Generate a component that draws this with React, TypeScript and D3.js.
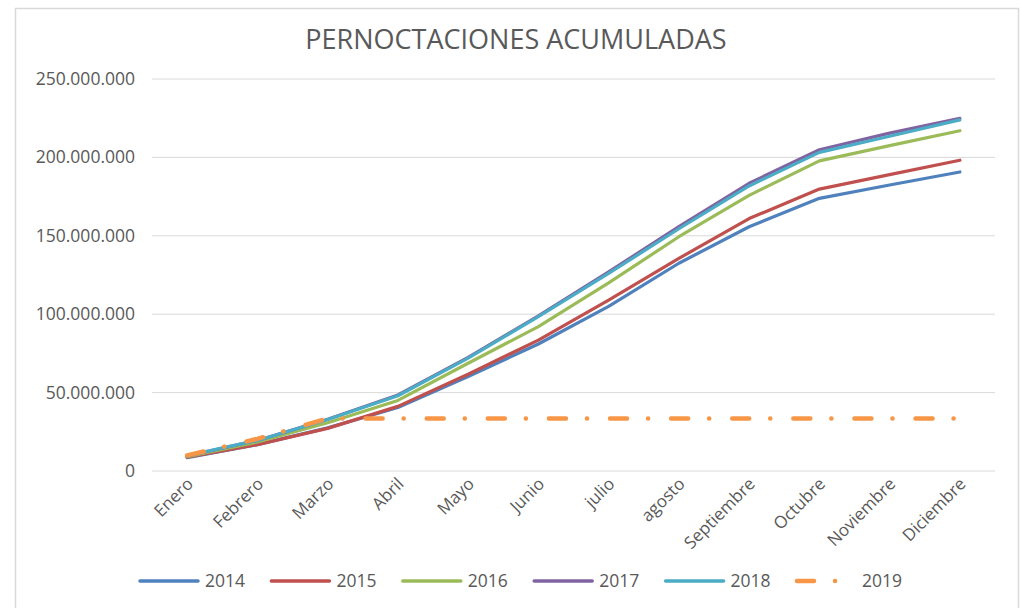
import React from "react";
import * as d3 from "d3";

const months = ["Enero","Febrero","Marzo","Abril","Mayo","Junio","julio","agosto","Septiembre","Octubre","Noviembre","Diciembre"];
const years = ["2014","2015","2016","2017","2018","2019"];
const colors = ["#4F81BD","#C0504D","#9BBB59","#8064A2","#4BACC6","#F79646"];
const s2014 = [8.5, 16.8, 27.5, 40.5, 60.2, 81, 105, 132.5, 155.8, 173.9, 182.4, 190.7];
const s2015 = [8.8, 16.8, 27.2, 41.2, 61.7, 83.5, 109, 135.6, 161, 179.8, 189, 198.2];
const s2016 = [9.2, 18.5, 30.8, 45, 68.7, 92.1, 120, 149.4, 175.8, 197.8, 207.5, 217];
const s2017 = [9.6, 19.5, 33, 48.5, 72.5, 99, 127, 155.8, 183.5, 204.9, 215.5, 224.9];
const s2018 = [9.8, 19.5, 32.8, 48, 72, 98.5, 126, 154.5, 181.8, 203.2, 213.5, 223.9];
const s2019 = [10, 20.5, 33.5, 33.5, 33.5, 33.5, 33.5, 33.5, 33.5, 33.5, 33.5, 33.5];
const seriesValues = [s2014, s2015, s2016, s2017, s2018, s2019];
const yTicks = [0, 50e6, 100e6, 150e6, 200e6, 250e6];
const title = "PERNOCTACIONES ACUMULADAS";

const W = 1021, H = 608;
const left = 152, right = 995, top = 79, bottom = 471;
const font = "'Open Sans', 'Noto Sans', sans-serif";

export default function App() {
  const x = d3.scalePoint<string>().domain(months).range([left, right]).padding(0.5);
  const y = d3.scaleLinear().domain([0, 250e6]).range([bottom, top]);
  const fmt = d3.formatLocale({ decimal: ",", thousands: ".", grouping: [3], currency: ["", "€"] }).format(",");
  const line = d3.line<number>().x((_, i) => x(months[i])!).y(d => y(d * 1e6));
  const legendStart = 140, legendStep = 131.4, legendLen = 58, legendY = 581;
  const dash = "17 21 0.1 23";
  return (
    <svg width={W} height={H} style={{ position: "absolute", left: 0, top: 0, background: "#fff" }}>
      <rect x={15.5} y={8.5} width={1003} height={620} fill="#fff" stroke="#d9d9d9" strokeWidth={1.5} />
      <text x={516} y={49} textAnchor="middle" fontFamily={font} fontSize={27} fill="#595959">{title}</text>
      {yTicks.map(t => (
        <g key={t}>
          <line x1={left} x2={right} y1={y(t)} y2={y(t)} stroke="#d9d9d9" strokeWidth={1} />
          <text x={135} y={y(t) + 6} textAnchor="end" fontFamily={font} fontSize={17.5} fill="#595959">{fmt(t)}</text>
        </g>
      ))}
      {months.map(m => (
        <text key={m} transform={`translate(${x(m)! + 7},${bottom + 14}) rotate(-45)`} textAnchor="end" fontFamily={font} fontSize={17} fill="#595959">{m}</text>
      ))}
      {seriesValues.map((s, i) => (
        <path key={years[i]} d={line(s)!} fill="none" stroke={colors[i]} strokeWidth={i === 5 ? 4.5 : 3.2}
          strokeLinecap="round" strokeLinejoin="round" strokeDasharray={i === 5 ? dash : undefined} />
      ))}
      {years.map((yr, i) => {
        const lx = legendStart + i * legendStep;
        return (
          <g key={yr}>
            <line x1={lx} x2={lx + legendLen} y1={legendY} y2={legendY} stroke={colors[i]} strokeWidth={i === 5 ? 4.5 : 3.5}
              strokeLinecap="round" strokeDasharray={i === 5 ? dash : undefined} />
            <text x={lx + legendLen + 7} y={legendY + 6} fontFamily={font} fontSize={17.5} fill="#595959">{yr}</text>
          </g>
        );
      })}
    </svg>
  );
}
